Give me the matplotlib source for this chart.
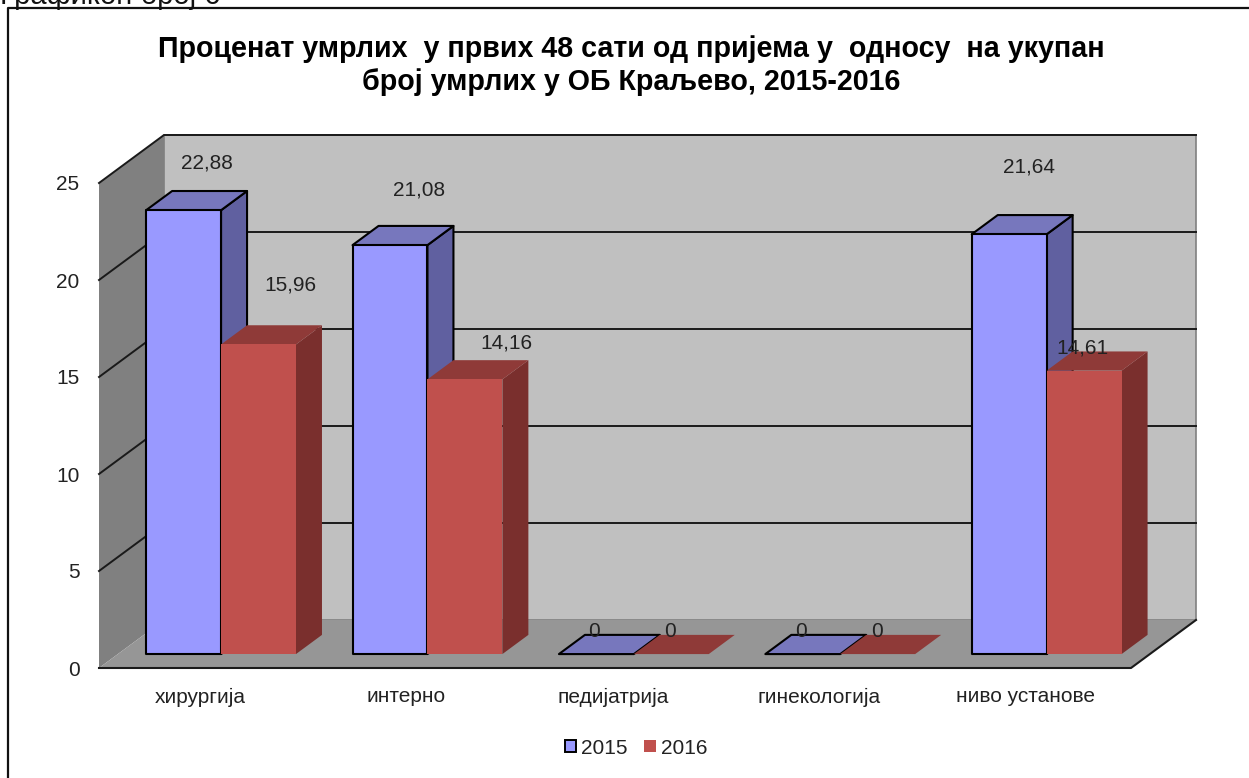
import matplotlib
matplotlib.use("Agg")
import matplotlib.pyplot as plt
from matplotlib.patches import Patch

plt.rcParams['font.family'] = ['Liberation Sans', 'DejaVu Sans']

categories = ['хирургија', 'интерно', 'педијатрија', 'гинекологија', 'ниво установе']
values_2015 = [22.88, 21.08, 0, 0, 21.64]
values_2016 = [15.96, 14.16, 0, 0, 14.61]
labels_2015 = ['22,88', '21,08', '0', '0', '21,64']
labels_2016 = ['15,96', '14,16', '0', '0', '14,61']
y_ticks = [0, 5, 10, 15, 20, 25]

W, H = 1249, 778

# front plane of the 3d box, in pixels of the picture
LEFT, RIGHT, BOTTOM, TOP = 99, 1131, 668, 183
# how far one full depth of the box moves a point
DEPTH_X = 65 / (RIGHT - LEFT) * 5
DEPTH_Y = 48 / (BOTTOM - TOP) * 25

BAR_W = 0.363
BAR_D0, BAR_D1 = 0.29, 0.69

# where the value labels sit relative to the front top of the bar, pixels
offs_2015 = [(23, 47), (29, 55), (-2, 23), (-2, 23), (20, 67)]
offs_2016 = [(32, 59), (42, 36), (-1, 23), (-1, 23), (-2, 23)]

BLUE = ('#9999ff', '#7777bd', '#6060a0')
RED = ('#c0504d', '#8f3a38', '#7a2f2d')


def pt(x, v, d):
    return x + d * DEPTH_X, v + d * DEPTH_Y


def face(ax, pts, color, edge='none', lw=0, z=1):
    ax.fill([p[0] for p in pts], [p[1] for p in pts], facecolor=color,
            edgecolor=edge, linewidth=lw, zorder=z, clip_on=False,
            joinstyle='round')


def draw_bar(ax, x0, x1, v, colors, edge, z):
    lw = 1.5 if edge != 'none' else 0
    front, top, side = colors
    d0, d1 = BAR_D0, BAR_D1
    if v > 0:
        face(ax, [pt(x1, 0, d0), pt(x1, 0, d1), pt(x1, v, d1), pt(x1, v, d0)], side, edge, lw, z)
    face(ax, [pt(x0, v, d0), pt(x1, v, d0), pt(x1, v, d1), pt(x0, v, d1)], top, edge, lw, z)
    if v > 0:
        face(ax, [pt(x0, 0, d0), pt(x1, 0, d0), pt(x1, v, d0), pt(x0, v, d0)], front, edge, lw, z + 0.1)


fig = plt.figure(figsize=(W / 100, H / 100), dpi=100)
ax = fig.add_axes([LEFT / W, 1 - BOTTOM / H, (RIGHT - LEFT) / W, (BOTTOM - TOP) / H])
ax.set_xlim(0, 5)
ax.set_ylim(0, 25)
ax.patch.set_visible(False)
for s in ax.spines.values():
    s.set_visible(False)

# walls and floor
face(ax, [pt(0, 0, 1), pt(5, 0, 1), pt(5, 25, 1), pt(0, 25, 1)], '#c0c0c0', '#808080', 1.2, 1)
face(ax, [pt(0, 0, 0), pt(0, 0, 1), pt(0, 25, 1), pt(0, 25, 0)], '#808080', z=1.1)
face(ax, [pt(0, 0, 0), pt(5, 0, 0), pt(5, 0, 1), pt(0, 0, 1)], '#969696', z=1.2)

for t in y_ticks[1:]:
    xs, ys = zip(pt(0, t, 0), pt(0, t, 1), pt(5, t, 1))
    ax.plot(xs, ys, color='#1a1a1a', lw=1.4, zorder=1.5, clip_on=False,
            solid_joinstyle='miter')
xs, ys = zip(pt(0, 0, 0), pt(5, 0, 0), pt(5, 0, 1))
ax.plot(xs, ys, color='#1a1a1a', lw=1.5, zorder=1.6, clip_on=False)

for i in range(len(categories)):
    c = i + 0.5
    draw_bar(ax, c - BAR_W, c, values_2015[i], BLUE, 'black', 3 + i)
    draw_bar(ax, c, c + BAR_W, values_2016[i], RED, 'none', 3.5 + i)

px_x = (RIGHT - LEFT) / 5
px_y = (BOTTOM - TOP) / 25
for i in range(len(categories)):
    c = i + 0.5
    for x_c, v, lab, off in [(c - BAR_W / 2, values_2015[i], labels_2015[i], offs_2015[i]),
                             (c + BAR_W / 2, values_2016[i], labels_2016[i], offs_2016[i])]:
        fx, fy = pt(x_c, v, BAR_D0)
        ax.text(fx + off[0] / px_x, fy + off[1] / px_y, lab, ha='center', va='center',
                fontsize=15, color='#222222', zorder=20, clip_on=False)

ax.set_yticks(y_ticks)
ax.set_xticks([i + 0.49 for i in range(len(categories))])
ax.set_xticklabels(categories, fontsize=15, color='#222222')
ax.tick_params(axis='y', length=0, pad=14, labelsize=15, labelcolor='#222222')
ax.tick_params(axis='x', length=0, pad=14)

fig.text(631 / W, 1 - 49 / H, 'Проценат умрлих  у првих 48 сати од пријема у  односу  на укупан',
         ha='center', va='center', fontsize=20.6, fontweight='bold', color='black')
fig.text(631 / W, 1 - 82 / H, 'број умрлих у ОБ Краљево, 2015-2016',
         ha='center', va='center', fontsize=20.6, fontweight='bold', color='black')

handles = [Patch(facecolor=BLUE[0], edgecolor='black', linewidth=1.4, label='2015'),
           Patch(facecolor=RED[0], edgecolor='none', label='2016')]
fig.legend(handles=handles, loc='center', bbox_to_anchor=(636 / W, 1 - 748 / H), ncol=2,
           frameon=False, fontsize=15, handlelength=0.55, handleheight=0.55,
           handletextpad=0.25, columnspacing=0.8, labelcolor='#222222')

# frame around the chart, the sheet cuts it off at right
fig.add_artist(plt.Line2D([8 / W, 8 / W, 1], [0, 1 - 8 / H, 1 - 8 / H], color='#111111', lw=1.6))
fig.text(0, 1 + 18 / H, 'Графикон број 6', ha='left', va='top', fontsize=21, color='#111111')

fig.savefig('out.png', dpi=100)
